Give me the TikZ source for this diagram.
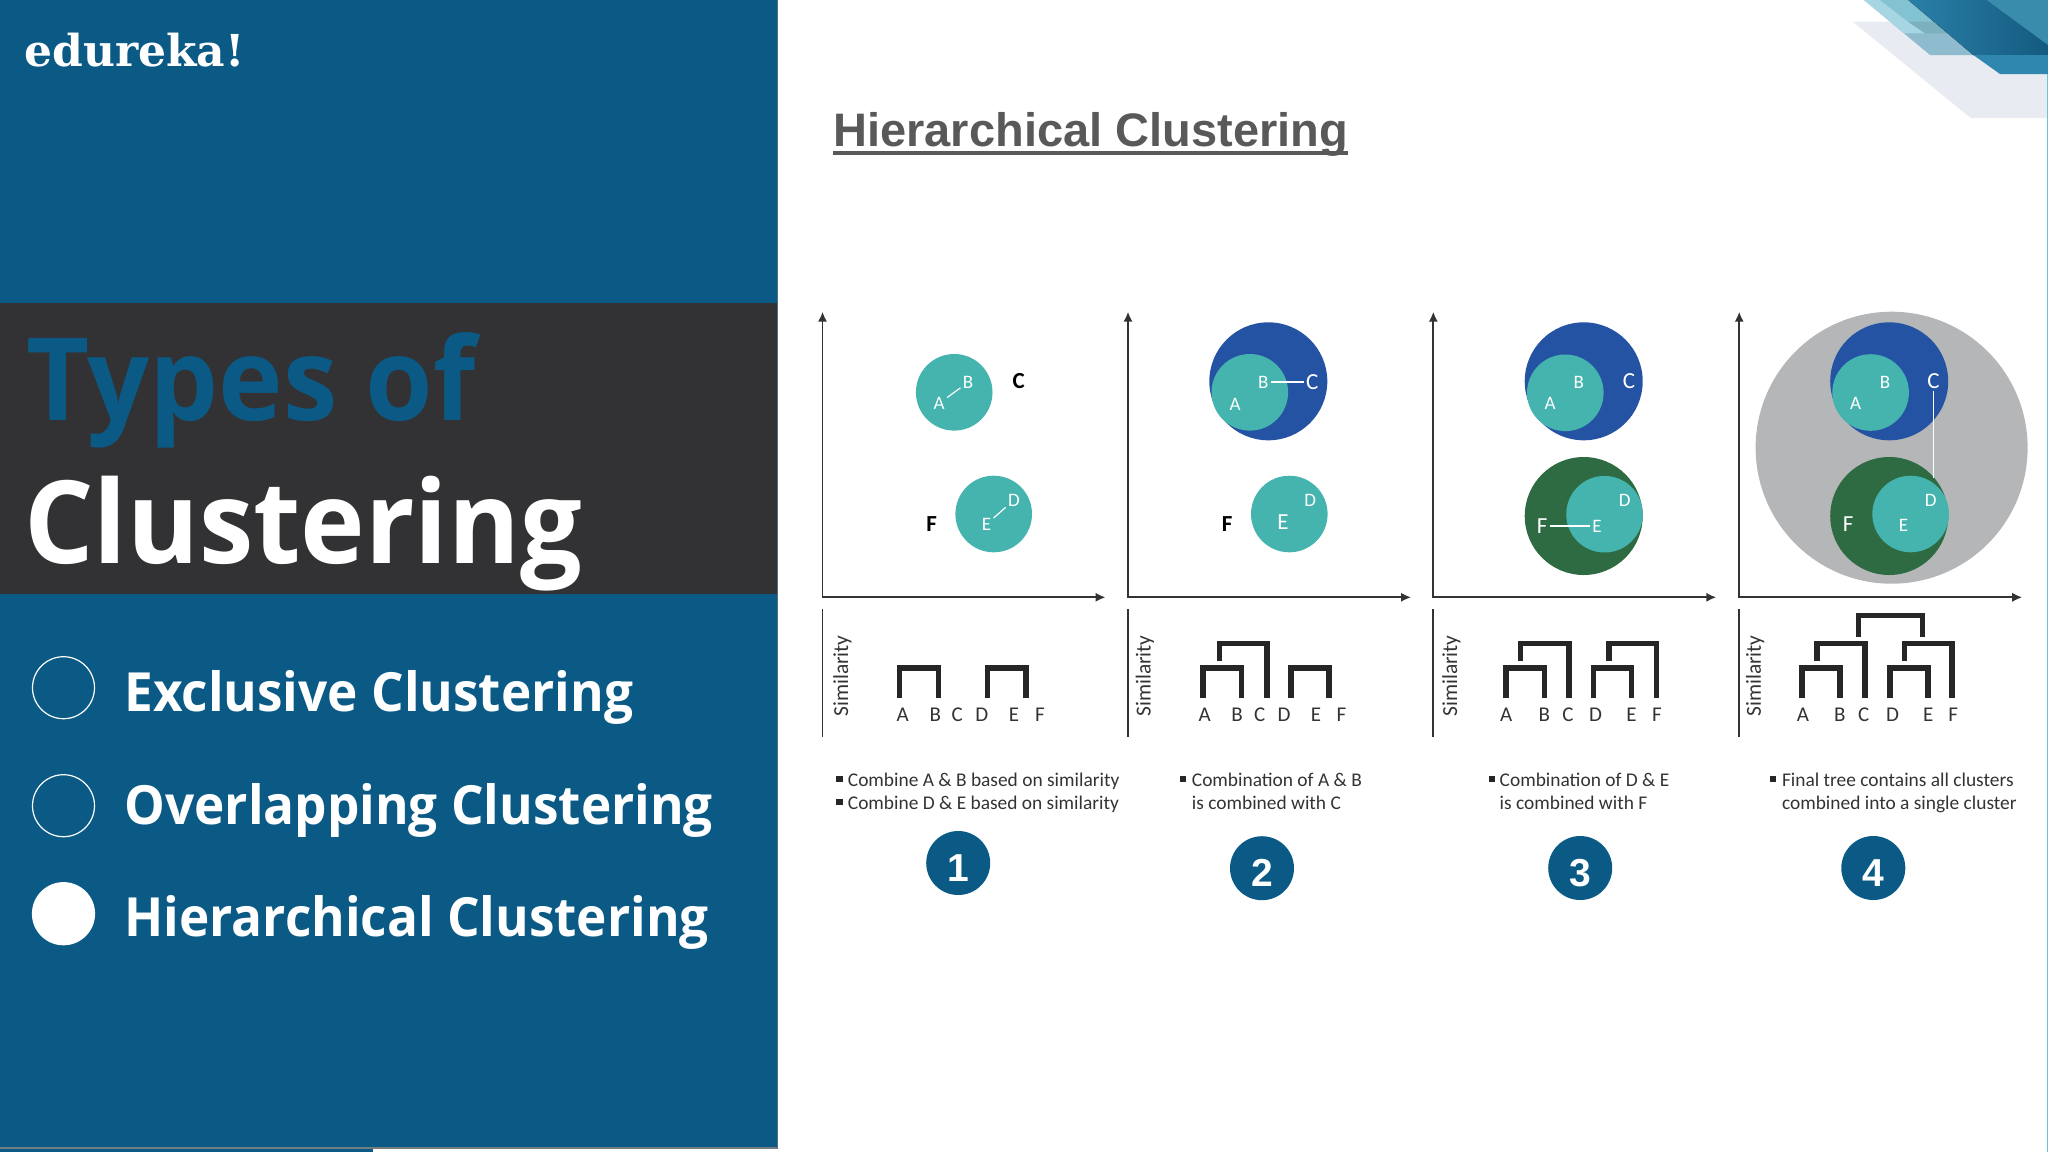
\documentclass[tikz,border=0pt]{standalone}
\usepackage{fontspec}
\setmainfont{Carlito}
\newfontfamily\headfont{Liberation Sans}
\newfontfamily\logofont{DejaVu Serif}
\newfontfamily\slidefont[FakeStretch=0.95]{Open Sans}
\usetikzlibrary{positioning, arrows.meta}
\usetikzlibrary{shapes}

\definecolor{panelblue}{HTML}{0A5A85}
\definecolor{bandgray}{HTML}{323234}
\definecolor{ballteal}{HTML}{45B3AE}
\definecolor{ballblue}{HTML}{2553A3}
\definecolor{ballgreen}{HTML}{2E6B42}
\definecolor{ballgray}{HTML}{B4B6B7}
\definecolor{inkgray}{HTML}{333333}

\tikzset{
	bigword/.style={anchor=base west,inner sep=0,font=\slidefont\bfseries\fontsize{57.5}{60}\selectfont},
	topic/.style={anchor=base west,inner sep=0,text=white,font=\slidefont\bfseries\fontsize{27}{28}\selectfont},
	ring/.style={circle,draw=white,line width=.6pt,minimum size=31pt,inner sep=0},
	badge/.style={circle,fill=panelblue,text=white,minimum size=32pt,inner sep=0,text height=18pt,text depth=0pt,font=\headfont\bfseries\fontsize{19.5}{20}\selectfont},
	tealball/.style={circle,fill=ballteal,minimum size=38.3pt,inner sep=0},
	outerball/.style={circle,minimum size=59pt,inner sep=0},
	ltr/.style={text=white,inner sep=1pt,font=\fontsize{9.5}{10}\selectfont},
	bigltr/.style={inner sep=1pt,font=\fontsize{11.5}{12}\selectfont},
	wire/.style={draw=white,line width=.6pt},
	axisline/.style={draw=inkgray,line width=.9pt},
	tip/.tip={Latex[length=5pt,width=4.6pt]},
	tree/.style={draw=black!85,line width=2.8pt,miter limit=10},
	note/.style={anchor=base west,inner sep=0,text=inkgray,font=\fontsize{9.7}{10}\selectfont},
	dot/.style={fill=black!85,minimum size=3.4pt,inner sep=0},
}
\newcommand{\brk}[5]{\draw[tree] (#1,#3) -- (#1,#5) -- (#2,#5) -- (#2,#4);}

\begin{document}
\begin{tikzpicture}[x=.5pt,y=-.5pt]
	\useasboundingbox (0,0) rectangle (2048,1152);
	% corner at the top right
	\fill[fill={rgb,255:red,232;green,235;blue,241}] (1852.7,21.7) -- (2048,21.7) -- (2048,118) -- (1970.7,118) -- cycle;
	\fill[fill={rgb,255:red,143;green,187;blue,206}] (1864,0) -- (1930,55) -- (2048,55) -- (2048,0) -- cycle;
	\fill[fill={rgb,255:red,166;green,214;blue,226}] (1864,0) -- (1880,0) -- (1925,33.3) -- (1904,33.3) -- cycle;
	\fill[fill={rgb,255:red,131;green,195;blue,209}] (1880,0) -- (1908.3,0) -- (1934,21.7) -- (1908,21.7) -- cycle;
	\fill[fill={rgb,255:red,123;green,176;blue,191}] (1908,21.7) -- (1934,21.7) -- (1948,33.3) -- (1925,33.3) -- cycle;
	\fill[left color={rgb,255:red,42;green,128;blue,168},right color={rgb,255:red,20;green,90;blue,128}] (1908.3,0) -- (1973.3,55) -- (2048,55) -- (2048,0) -- cycle;
	\fill[fill={rgb,255:red,47;green,134;blue,174}] (1973.3,55) -- (2000,74) -- (2048,74) -- (2048,55) -- cycle;
	\fill[fill={rgb,255:red,58;green,140;blue,172}] (1986.7,0) -- (2048,45) -- (2048,0) -- cycle;
	\fill[fill=panelblue!60!cyan!60!white] (2046.5,74) rectangle (2048,1152);

	% left side
	\fill[fill=panelblue] (0,0) rectangle (777,1148);
	\fill[fill=panelblue] (0,1148) rectangle (373,1152);
	\fill[fill=gray!90!panelblue] (0,1146.5) rectangle (777.5,1148.7);
	\fill[fill=gray!60!panelblue] (776.5,0) rectangle (777.5,1148.7);
	\fill[fill=bandgray] (0,302.7) rectangle (776.5,594);
	\node[anchor=base west,inner sep=0,text=white,font=\logofont\bfseries\fontsize{22}{22}\selectfont] (logo) at (24,66.7) {edureka!};
	\node[bigword,text=panelblue] (typesof) at (26,420) {Types of};
	\node[bigword,text=white] (clustering) at (24,563.3) {Clustering};
	\node[ring] (m1) at (63.5,687.7) {};
	\node[ring] (m2) at (63.5,805.7) {};
	\node[ring,fill=white] (m3) at (63.5,913.7) {};
	\node[topic] (t1) at (124,711.7) {Exclusive Clustering};
	\node[topic] (t2) at (124,824.3) {Overlapping Clustering};
	\node[topic] (t3) at (124,936.7) {Hierarchical Clustering};

	% heading
	\node[anchor=base west,inner sep=0,text=black!65,font=\headfont\bfseries\fontsize{23.5}{24}\selectfont] (head) at (833,146) {Hierarchical Clustering};
	\draw[draw=black!65,line width=2pt] ([yshift=-3.5pt]head.base west) -- ([yshift=-3.5pt]head.base east);

	% the frame of each step
	\foreach \n/\ax/\sx/\xa/\xb/\xc/\xd/\xe/\xf in {1/822.5/20/80.3/112.7/134.8/159.4/191.4/217.5,
		2/1128/17/76.7/109/131.7/156/188/213.5,
		3/1433.3/18/72.9/111/134.6/162.2/198.2/223.5,
		4/1739.2/16/63.7/100.5/124.5/153.4/189/213.9} {
		\begin{scope}[shift={(\ax,0)}]
			\coordinate (ytop\n) at (0,311.7);
			\coordinate (orig\n) at (0,597.3);
			\coordinate (xend\n) at (283,597.3);
			\coordinate (sima\n) at (0,609.3);
			\coordinate (simb\n) at (0,736.7);
			\draw[axisline,{tip}-{tip}] (ytop\n) -- (orig\n) -- (xend\n);
			\draw[axisline] (sima\n) -- (simb\n);
			\node[rotate=90,inner sep=0,text=inkgray,font=\fontsize{10.7}{11}\selectfont] (sim\n) at (\sx,676) {Similarity};
			\foreach \nm/\xx in {A/\xa,B/\xb,C/\xc,D/\xd,E/\xe,F/\xf}
				\node[inner sep=0,text=inkgray,font=\fontsize{10.5}{10}\selectfont] (leaf\nm\n) at (\xx,714.3) {\nm};
		\end{scope}
	}

	% step 1
	\begin{scope}[shift={(822.5,0)}]
		\node[tealball] (ab1) at (131.7,392.3) {};
		\node[tealball] (de1) at (171.2,514) {};
		\node[ltr] (A1) at (116.7,403.3) {A};
		\node[ltr] (B1) at (145.5,382.3) {B};
		\node[bigltr,font=\bfseries\fontsize{11.5}{12}\selectfont] (C1) at (196.2,380.7) {C};
		\node[ltr] (D1) at (191.4,500) {D};
		\node[ltr] (E1) at (164,524.3) {E};
		\node[bigltr,font=\bfseries\fontsize{11.5}{12}\selectfont] (F1) at (109.1,524.3) {F};
		\draw[wire] (A1) -- (B1);
		\draw[wire] (E1) -- (D1);
		\brk{77}{116}{698}{698}{668}
		\brk{165}{203.5}{698}{698}{668}
	\end{scope}
	% step 2
	\begin{scope}[shift={(1128,0)}]
		\node[outerball,fill=ballblue] (abc2) at (140.3,381.3) {};
		\node[tealball] (ab2) at (121.8,392.3) {};
		\node[tealball] (de2) at (161.3,514) {};
		\node[ltr] (A2) at (107.2,404) {A};
		\node[ltr] (B2) at (135.2,382) {B};
		\node[bigltr,text=white] (C2) at (184.3,382) {C};
		\node[ltr] (D2) at (182.3,500) {D};
		\node[bigltr,text=white] (E2) at (154.9,522) {E};
		\node[bigltr,font=\bfseries\fontsize{11.5}{12}\selectfont] (F2) at (99.2,524.3) {F};
		\draw[wire] (B2) -- (C2);
		\brk{75}{113.3}{698}{698}{668}
		\brk{91.3}{139}{660.7}{698}{643.5}
		\brk{162.8}{201}{698}{698}{668}
	\end{scope}
	% step 3
	\begin{scope}[shift={(1433.3,0)}]
		\node[outerball,fill=ballblue] (abc3) at (150.4,381.3) {};
		\node[tealball] (ab3) at (132,392.8) {};
		\node[outerball,fill=ballgreen] (def3) at (150.4,516) {};
		\node[tealball] (de3) at (171.2,514.2) {};
		\node[ltr] (A3) at (116.9,403.3) {A};
		\node[ltr] (B3) at (145.4,382.3) {B};
		\node[bigltr,text=white] (C3) at (195.8,380.7) {C};
		\node[ltr] (D3) at (191.4,500) {D};
		\node[ltr] (E3) at (163.8,526) {E};
		\node[bigltr,text=white] (F3) at (108.9,526) {F};
		\draw[wire] (F3) -- (E3);
		\brk{72.8}{111.3}{698}{698}{668}
		\brk{87.3}{135.4}{660.7}{698}{643.5}
		\brk{160}{198.3}{698}{698}{668}
		\brk{175.4}{223}{660.7}{698}{643.5}
	\end{scope}
	% step 4
	\begin{scope}[shift={(1739.2,0)}]
		\node[circle,fill=ballgray,minimum size=136pt,inner sep=0] (all4) at (152.4,447.7) {};
		\node[outerball,fill=ballblue] (abc4) at (150,381.3) {};
		\node[tealball] (ab4) at (131.4,392.5) {};
		\node[outerball,fill=ballgreen] (def4) at (150,516) {};
		\node[tealball] (de4) at (171.4,514) {};
		\node[ltr] (A4) at (116.5,403.3) {A};
		\node[ltr] (B4) at (145.8,382.3) {B};
		\node[bigltr,text=white] (C4) at (194.2,380.7) {C};
		\node[ltr] (D4) at (191.4,500) {D};
		\node[ltr] (E4) at (164.2,525) {E};
		\node[bigltr,text=white] (F4) at (108.9,524.3) {F};
		\coordinate (cd4) at (194.2,478);
		\draw[wire] (C4) -- (cd4);
		\brk{63}{101}{698}{698}{668}
		\brk{78}{126}{660.7}{698}{643.5}
		\brk{151}{188.6}{698}{698}{668}
		\brk{165.4}{212.7}{660.7}{698}{643.5}
		\brk{119.3}{183.4}{636.7}{636.7}{615.5}
	\end{scope}

	% notes
	\node[dot] (d1) at (839.4,779) {};
	\node[note] (n1) at (847.5,786) {Combine A \& B based on similarity};
	\node[dot] (d2) at (839.4,802) {};
	\node[note] (n2) at (847.5,809) {Combine D \& E based on similarity};
	\node[dot] (d3) at (1183,779) {};
	\node[note] (n3) at (1191.5,786) {Combination of A \& B};
	\node[note] (n4) at (1191.5,809) {is combined with C};
	\node[dot] (d4) at (1492,779) {};
	\node[note] (n5) at (1499.3,786) {Combination of D \& E};
	\node[note] (n6) at (1499.3,809) {is combined with F};
	\node[dot] (d5) at (1773,779) {};
	\node[note] (n7) at (1781.6,786) {Final tree contains all clusters};
	\node[note] (n8) at (1781.6,809) {combined into a single cluster};

	% numbers
	\node[badge] (b1) at (958.2,863) {1};
	\node[badge] (b2) at (1262,868.2) {2};
	\node[badge] (b3) at (1580.2,868) {3};
	\node[badge] (b4) at (1873.3,868) {4};
\end{tikzpicture}
\end{document}
